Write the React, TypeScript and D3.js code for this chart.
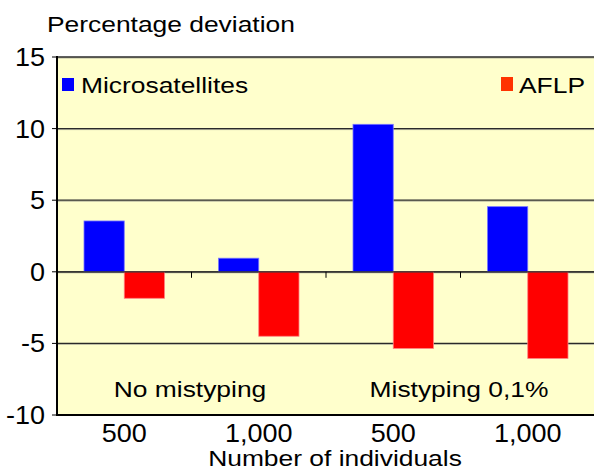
import React from 'react';
import * as d3 from 'd3';

// Chart values
const categories = ['500', '1,000', '500', '1,000'];
const microsatellites = [3.55, 0.95, 10.3, 4.55];
const aflp = [-1.85, -4.5, -5.35, -6.05];
const yTicks = [-10, -5, 0, 5, 10, 15];
const groupLabels = ['No mistyping', 'Mistyping 0,1%'];
const seriesNames = ['Microsatellites', 'AFLP'];

const W = 594;
const H = 470;
const FONT = '"Liberation Sans", Arial, sans-serif';

const T: React.FC<{
  x: number;
  y: number;
  size?: number;
  sx?: number;
  anchor?: 'start' | 'middle' | 'end';
  children: React.ReactNode;
}> = ({ x, y, size = 22, sx = 1.2, anchor = 'start', children }) => (
  <text
    transform={`translate(${x},${y}) scale(${sx},1)`}
    textAnchor={anchor}
    fontFamily={FONT}
    fontSize={size}
    fill="#000"
  >
    {children}
  </text>
);

const App: React.FC = () => {
  const left = 57;
  const right = 595;
  const top = 57;
  const bottom = 415;

  const y = d3.scaleLinear().domain([-10, 15]).range([bottom, top]);
  const x0 = d3
    .scaleBand<number>()
    .domain(d3.range(categories.length))
    .range([left, right])
    .padding(0);
  const x1 = d3
    .scaleBand<number>()
    .domain([0, 1])
    .range([27, x0.bandwidth() - 27])
    .padding(0);

  const series = [
    { values: microsatellites, fill: '#0000ff', edge: '#7777ff' },
    { values: aflp, fill: '#ff0000', edge: '#ff8080' },
  ];

  const y0 = y(0);

  return (
    <svg
      width={W}
      height={H}
      style={{ position: 'absolute', left: 0, top: 0, background: '#fff' }}
    >
      {/* plot background */}
      <rect x={left} y={top} width={right - left} height={bottom - top} fill="#ffffcc" />

      {/* gridlines */}
      {yTicks
        .filter(t => t > -10)
        .map(t => (
          <g key={t}>
            <line x1={left} x2={right} y1={y(t) + 1} y2={y(t) + 1} stroke="#b8b8a0" strokeWidth={1} />
            <line x1={left} x2={right} y1={y(t)} y2={y(t)} stroke="#2a2a2a" strokeWidth={t === 15 ? 1.6 : 1.2} />
          </g>
        ))}

      {/* bars */}
      {series.map((s, si) =>
        s.values.map((v, i) => {
          const bx = x0(i)! + x1(si)!;
          const by = Math.min(y(v), y0);
          return (
            <rect
              key={`${si}-${i}`}
              x={bx}
              y={by}
              width={x1.bandwidth()}
              height={Math.abs(y(v) - y0)}
              fill={s.fill}
              stroke={s.edge}
              strokeWidth={0.8}
            />
          );
        })
      )}

      {/* zero line redrawn over bars, with category ticks */}
      <line x1={left} x2={right} y1={y0} y2={y0} stroke="#2a2a2a" strokeWidth={1.2} />
      {d3.range(1, categories.length).map(i => (
        <line key={i} x1={x0(i)!} x2={x0(i)!} y1={y0} y2={y0 + 6} stroke="#000" strokeWidth={1} />
      ))}

      {/* axes */}
      <line x1={left} x2={left} y1={top - 1} y2={bottom + 1} stroke="#000" strokeWidth={2} />
      <line x1={left} x2={right} y1={bottom} y2={bottom} stroke="#000" strokeWidth={2} />
      {yTicks.map(t => (
        <g key={t}>
          <line x1={left - 5} x2={left} y1={y(t)} y2={y(t)} stroke="#000" strokeWidth={1} />
          <T x={45} y={y(t) + 9} size={25} sx={1.08} anchor="end">
            {t}
          </T>
        </g>
      ))}

      {/* category labels */}
      {categories.map((c, i) => (
        <T key={i} x={x0(i)! + x0.bandwidth() / 2} y={442} size={25} sx={1.08} anchor="middle">
          {c}
        </T>
      ))}

      {/* group annotations */}
      <T x={190} y={396.5} size={22} anchor="middle">
        {groupLabels[0]}
      </T>
      <T x={459} y={396.5} size={22} anchor="middle">
        {groupLabels[1]}
      </T>

      {/* legend */}
      <rect x={62} y={78} width={12} height={13} fill="#0000ff" />
      <T x={81} y={93} size={22}>
        {seriesNames[0]}
      </T>
      <rect x={501} y={77} width={12} height={14} fill="#ff3300" />
      <T x={519} y={93} size={22}>
        {seriesNames[1]}
      </T>

      {/* titles */}
      <T x={47} y={32} size={22}>
        Percentage deviation
      </T>
      <T x={335} y={466} size={22} anchor="middle">
        Number of individuals
      </T>
    </svg>
  );
};

export default App;
